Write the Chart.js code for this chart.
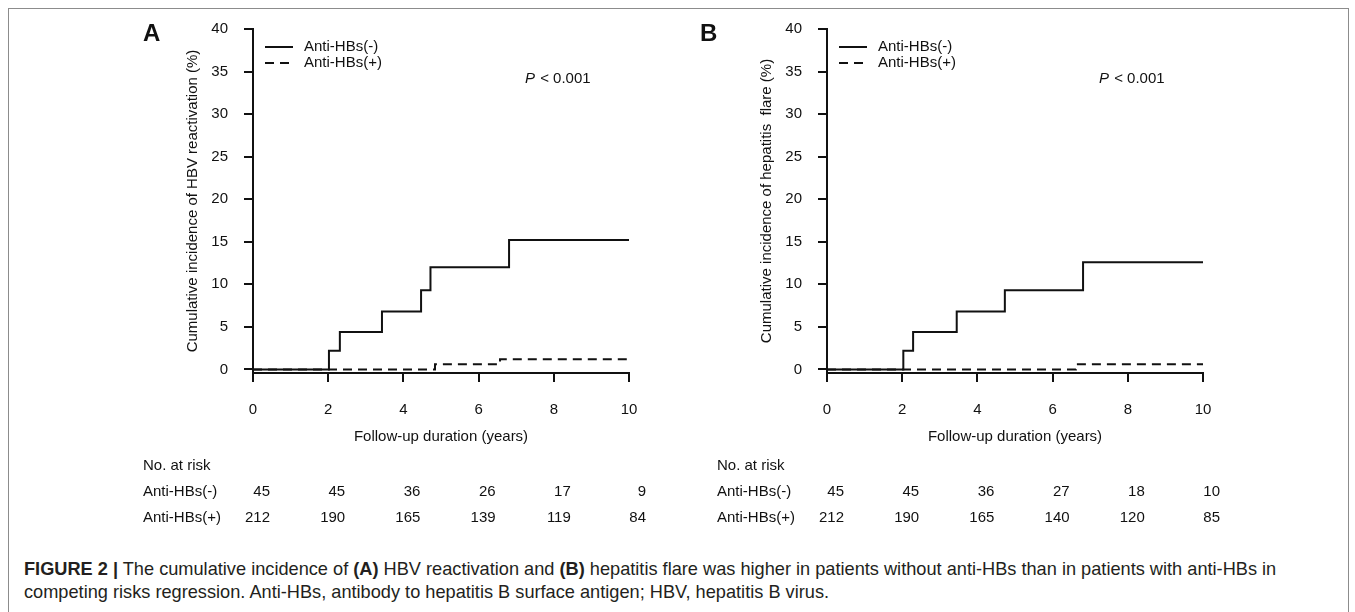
<!DOCTYPE html>
<html>
<head>
<meta charset="utf-8">
<script src="https://cdn.jsdelivr.net/npm/chart.js@4.4.1/dist/chart.umd.min.js"></script>
<style>
    body { margin: 0; background: #fff; width: 1355px; height: 612px; overflow: hidden; position: relative; font-family: 'Liberation Sans', Arial, sans-serif; }
    #frame { position: absolute; left: 8px; top: 8px; width: 1341px; height: 640px; border: 1px solid #8c8c8c; box-sizing: border-box; }
    .panel { position: absolute; top: 0; height: 540px; }
    #caption { position: absolute; left: 24px; top: 558px; font-size: 18.2px; line-height: 23px; color: #231f20; white-space: nowrap; }
</style>
</head>
<body>
<div id="frame"></div>
<div class="panel" style="left:0; width:680px;"><canvas id="chartA"></canvas></div>
<div class="panel" style="left:680px; width:675px;"><canvas id="chartB"></canvas></div>
<div id="caption"><b>FIGURE 2 |</b> The cumulative incidence of <b>(A)</b> HBV reactivation and <b>(B)</b> hepatitis flare was higher in patients without anti-HBs than in patients with anti-HBs in<br>competing risks regression. Anti-HBs, antibody to hepatitis B surface antigen; HBV, hepatitis B virus.</div>

<script>
// tick values
const years = [0, 2, 4, 6, 8, 10];
const yTicks = [0, 5, 10, 15, 20, 25, 30, 35, 40];
const groups = ['Anti-HBs(-)', 'Anti-HBs(+)'];

// panel A: HBV reactivation (%)
const timeA_neg = [0, 2.02, 2.31, 3.43, 4.47, 4.72, 6.81, 10];
const cumA_neg = [0, 2.2, 4.4, 6.8, 9.3, 12.0, 15.2, 15.2];
const timeA_pos = [0, 4.84, 6.57, 10];
const cumA_pos = [0, 0.6, 1.2, 1.2];
const riskA_neg = [45, 45, 36, 26, 17, 9];
const riskA_pos = [212, 190, 165, 139, 119, 84];

// panel B: hepatitis flare (%)
const timeB_neg = [0, 2.03, 2.29, 3.45, 4.73, 6.81, 10];
const cumB_neg = [0, 2.2, 4.4, 6.8, 9.3, 12.6, 12.6];
const timeB_pos = [0, 6.62, 10];
const cumB_pos = [0, 0.6, 0.6];
const riskB_neg = [45, 45, 36, 27, 18, 10];
const riskB_pos = [212, 190, 165, 140, 120, 85];

const ink = '#111';
const FONT = "'Liberation Sans', Arial, sans-serif";
const FS = 15;
Chart.defaults.font.family = FONT;
Chart.defaults.font.size = FS;
Chart.defaults.color = ink;

function toPoints(t, v) {
    return t.map((x, i) => ({ x: x, y: v[i] }));
}

// text, legend and risk table drawn around the plot
const annotate = {
    id: 'annotate',
    afterDraw(chart, args, o) {
        const { ctx, chartArea: a, scales: { x } } = chart;
        ctx.save();
        ctx.fillStyle = ink;
        ctx.textBaseline = 'middle';

        // panel letter
        ctx.font = 'bold 24px ' + FONT;
        ctx.textAlign = 'left';
        ctx.fillText(o.letter, o.letterX, 34);

        // legend
        ctx.font = FS + 'px ' + FONT;
        chart.data.datasets.forEach((ds, i) => {
            const ly = 47 + i * 16;
            ctx.beginPath();
            ctx.strokeStyle = ds.borderColor;
            ctx.lineWidth = ds.borderWidth;
            ctx.setLineDash(ds.borderDash || []);
            ctx.moveTo(a.left + 12, ly);
            ctx.lineTo(a.left + 40, ly);
            ctx.stroke();
            ctx.setLineDash([]);
            ctx.fillText(ds.label, a.left + 51, ly);
        });

        // p value
        ctx.font = 'italic ' + FS + 'px ' + FONT;
        const px = a.left + 272;
        ctx.fillText('P', px, 79);
        const pw = ctx.measureText('P').width;
        ctx.font = FS + 'px ' + FONT;
        ctx.fillText(' < 0.001', px + pw + 1, 79);

        // y title
        ctx.save();
        ctx.translate(a.left - 60, (a.top + a.bottom) / 2);
        ctx.rotate(-Math.PI / 2);
        ctx.textAlign = 'center';
        ctx.fillText(o.yTitle, 0, 0);
        ctx.restore();

        // x title
        ctx.textAlign = 'center';
        ctx.fillText('Follow-up duration (years)', (a.left + a.right) / 2, 437);

        // number at risk
        ctx.textAlign = 'left';
        ctx.fillText('No. at risk', a.left - 110, 466);
        [o.riskNeg, o.riskPos].forEach((row, r) => {
            const ry = 492 + r * 26;
            ctx.textAlign = 'left';
            ctx.fillText(groups[r], a.left - 110, ry);
            ctx.textAlign = 'right';
            row.forEach((n, i) => {
                ctx.fillText(String(n), x.getPixelForValue(years[i]) + 17, ry);
            });
        });
        ctx.restore();
    }
};

function makePanel(id, neg, pos, opts) {
    const axisW = 60, axisH = 60;
    return new Chart(document.getElementById(id), {
        type: 'line',
        data: {
            datasets: [{
                label: groups[0],
                data: neg,
                borderColor: ink,
                borderWidth: 2,
                stepped: true,
                pointRadius: 0,
                fill: false
            }, {
                label: groups[1],
                data: pos,
                borderColor: ink,
                borderWidth: 2,
                borderDash: [9, 6],
                stepped: true,
                pointRadius: 0,
                fill: false
            }]
        },
        options: {
            responsive: true,
            maintainAspectRatio: false,
            animation: false,
            events: [],
            layout: {
                padding: { left: opts.left - axisW, top: 29, right: opts.width - opts.right, bottom: 540 - 373 - axisH }
            },
            scales: {
                x: {
                    type: 'linear',
                    min: 0,
                    max: 10,
                    afterFit: s => { s.height = axisH; },
                    afterBuildTicks: s => { s.ticks = years.map(v => ({ value: v })); },
                    grid: { drawOnChartArea: false, tickLength: 9, color: ink, lineWidth: 2 },
                    border: { color: ink, width: 2 },
                    ticks: { padding: 19, color: ink, font: { size: FS } }
                },
                y: {
                    min: -0.42,
                    max: 40,
                    afterFit: s => { s.width = axisW; },
                    afterBuildTicks: s => { s.ticks = yTicks.map(v => ({ value: v })); },
                    grid: { drawOnChartArea: false, tickLength: 9, color: ink, lineWidth: 2 },
                    border: { color: ink, width: 2 },
                    ticks: { padding: 16, color: ink, font: { size: FS } }
                }
            },
            plugins: {
                legend: { display: false },
                tooltip: { enabled: false },
                annotate: opts.annotate
            }
        },
        plugins: [annotate]
    });
}

makePanel('chartA', toPoints(timeA_neg, cumA_neg), toPoints(timeA_pos, cumA_pos), {
    left: 253, right: 629, width: 680,
    annotate: { letter: 'A', letterX: 143, yTitle: 'Cumulative incidence of HBV reactivation (%)', riskNeg: riskA_neg, riskPos: riskA_pos }
});

makePanel('chartB', toPoints(timeB_neg, cumB_neg), toPoints(timeB_pos, cumB_pos), {
    left: 147, right: 523, width: 675,
    annotate: { letter: 'B', letterX: 20, yTitle: 'Cumulative incidence of hepatitis  flare (%)', riskNeg: riskB_neg, riskPos: riskB_pos }
});
</script>
</body>
</html>
